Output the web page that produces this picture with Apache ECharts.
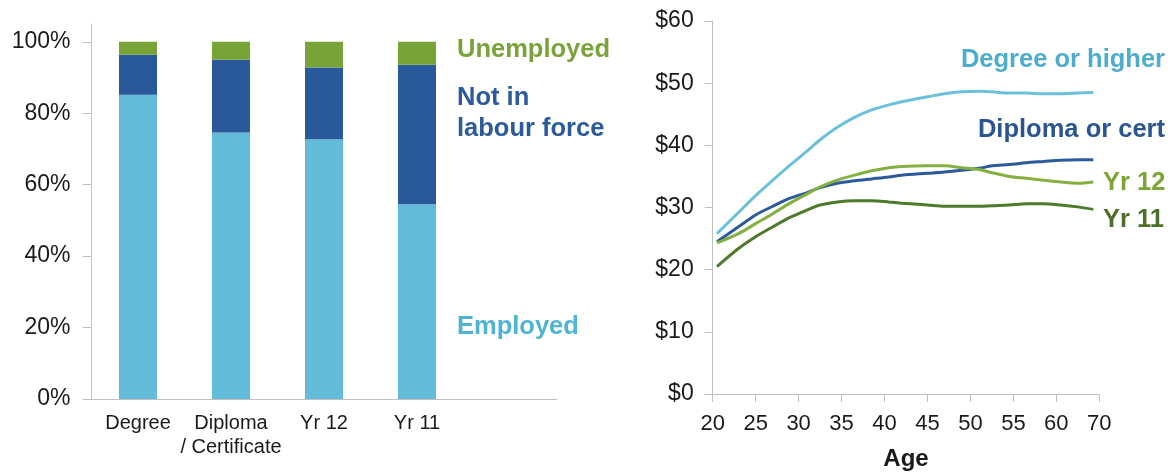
<!DOCTYPE html>
<html>
<head>
<meta charset="utf-8">
<script src="https://cdn.jsdelivr.net/npm/echarts@6/dist/echarts.min.js"></script>
<style>html,body{margin:0;padding:0;background:#fff;}#c{width:1173px;height:473px;}</style>
</head>
<body>
<div id="c"></div>
<script>
// ---- Left chart: labour force status by education ----
const barCategories = ['Degree', 'Diploma\n/ Certificate', 'Yr 12', 'Yr 11', ''];
const employed   = [85.2, 74.6, 72.7, 54.5, null];
const notInLF    = [11.2, 20.4, 20.1, 39.1, null];
const unemployed = [3.6, 5.0, 7.2, 6.4, null];
const pctTicks = [0, 20, 40, 60, 80, 100];

// ---- Right chart: hourly wage by age ----
const ageTickLabels = ['20', '25', '30', '35', '40', '45', '50', '55', '60', '70'];
const ages = [20.5, 23, 25, 27, 29, 31, 32.5, 34.5, 36.5, 38.5, 40.5, 42, 45, 47, 49, 51, 52.5, 54.5, 56.5, 58.5, 60.5, 62.5, 64.3];
const wageDegree  = [25.8, 29.2, 31.9, 34.4, 36.8, 39.1, 40.9, 42.9, 44.5, 45.7, 46.5, 47.0, 47.8, 48.3, 48.6, 48.7, 48.6, 48.4, 48.4, 48.3, 48.3, 48.4, 48.5];
const wageDiploma = [24.5, 26.9, 28.8, 30.2, 31.5, 32.4, 33.2, 33.9, 34.3, 34.6, 34.9, 35.2, 35.5, 35.7, 36.0, 36.3, 36.7, 36.9, 37.2, 37.4, 37.6, 37.7, 37.7];
const wageYr12    = [24.3, 25.8, 27.4, 29.0, 30.7, 32.2, 33.3, 34.4, 35.2, 35.9, 36.4, 36.6, 36.7, 36.7, 36.4, 36.1, 35.6, 35.0, 34.7, 34.4, 34.1, 33.9, 34.1];
const wageYr11    = [20.5, 23.4, 25.3, 26.9, 28.4, 29.6, 30.4, 30.9, 31.1, 31.1, 30.9, 30.7, 30.4, 30.2, 30.2, 30.2, 30.3, 30.4, 30.6, 30.6, 30.4, 30.1, 29.7];

const C_LIGHT = '#62bcd9', C_DARK = '#29599b', C_GREEN = '#78a336', C_DGREEN = '#4e7a2b';
const FONT = '"Liberation Sans", Arial, sans-serif';
const axisGray = '#bfbfbf';

const zip = (xs, ys) => xs.map((x, i) => [x, ys[i]]);

const chart = echarts.init(document.getElementById('c'), null, {renderer: 'canvas'});
chart.setOption({
  animation: false,
  backgroundColor: '#fff',
  textStyle: {fontFamily: FONT},
  grid: [
    {left: 91.5, top: 24, width: 465, height: 375, containLabel: false, outerBoundsMode: 'none'},
    {left: 712.7, top: 21, width: 386.6, height: 373, containLabel: false, outerBoundsMode: 'none'}
  ],
  xAxis: [
    {
      gridIndex: 0, type: 'category', data: barCategories,
      axisLine: {lineStyle: {color: axisGray, width: 1}},
      axisTick: {show: false},
      axisLabel: {color: '#1a1a1a', fontSize: 20, fontFamily: FONT, margin: 12, lineHeight: 24, interval: 0}
    },
    {
      gridIndex: 1, type: 'value', min: 20, max: 65, interval: 5,
      axisLine: {lineStyle: {color: axisGray, width: 1}},
      axisTick: {show: true, length: 8, lineStyle: {color: axisGray}},
      splitLine: {show: false},
      axisLabel: {color: '#1a1a1a', fontSize: 22, fontFamily: FONT, margin: 19,
        formatter: v => ageTickLabels[Math.round((v - 20) / 5)]},
      name: 'Age', nameLocation: 'middle', nameGap: 53,
      nameTextStyle: {color: '#1a1a1a', fontSize: 24, fontWeight: 'bold', fontFamily: FONT}
    }
  ],
  yAxis: [
    {
      gridIndex: 0, type: 'value', min: 0, max: 105, interval: 20,
      axisLine: {show: true, lineStyle: {color: axisGray}},
      axisTick: {show: true, length: 9, lineStyle: {color: axisGray}, customValues: pctTicks},
      splitLine: {show: false},
      axisLabel: {color: '#1a1a1a', fontSize: 23, fontFamily: FONT, margin: 21, customValues: pctTicks,
        formatter: v => v + '%'}
    },
    {
      gridIndex: 1, type: 'value', min: 0, max: 60, interval: 10,
      axisLine: {show: true, lineStyle: {color: axisGray}},
      axisTick: {show: true, length: 8, lineStyle: {color: axisGray}},
      splitLine: {show: false},
      axisLabel: {color: '#1a1a1a', fontSize: 23, fontFamily: FONT, margin: 19,
        formatter: v => '$' + v}
    }
  ],
  series: [
    {name: 'Employed', type: 'bar', stack: 'lf', xAxisIndex: 0, yAxisIndex: 0, barWidth: 38,
      data: employed, itemStyle: {color: C_LIGHT}},
    {name: 'Not in labour force', type: 'bar', stack: 'lf', xAxisIndex: 0, yAxisIndex: 0, barWidth: 38,
      data: notInLF, itemStyle: {color: C_DARK}},
    {name: 'Unemployed', type: 'bar', stack: 'lf', xAxisIndex: 0, yAxisIndex: 0, barWidth: 38,
      data: unemployed, itemStyle: {color: C_GREEN}},
    {name: 'Degree or higher', type: 'line', xAxisIndex: 1, yAxisIndex: 1, smooth: 0.3, showSymbol: false,
      data: zip(ages, wageDegree), lineStyle: {color: '#6cc0dc', width: 3}},
    {name: 'Diploma or cert', type: 'line', xAxisIndex: 1, yAxisIndex: 1, smooth: 0.3, showSymbol: false,
      data: zip(ages, wageDiploma), lineStyle: {color: '#2c5a9c', width: 3}},
    {name: 'Yr 12', type: 'line', xAxisIndex: 1, yAxisIndex: 1, smooth: 0.3, showSymbol: false,
      data: zip(ages, wageYr12), lineStyle: {color: '#84b041', width: 3}},
    {name: 'Yr 11', type: 'line', xAxisIndex: 1, yAxisIndex: 1, smooth: 0.3, showSymbol: false,
      data: zip(ages, wageYr11), lineStyle: {color: C_DGREEN, width: 3}}
  ],
  graphic: [
    {type: 'text', left: 457, top: 37, style: {text: 'Unemployed', fill: '#78a33a', font: 'bold 25.5px ' + FONT}},
    {type: 'text', left: 457, top: 82, style: {text: 'Not in\nlabour force', fill: '#2b5b9a', font: 'bold 25.5px ' + FONT, lineHeight: 31}},
    {type: 'text', left: 457, top: 314, style: {text: 'Employed', fill: '#4fb3d3', font: 'bold 25.5px ' + FONT}},
    {type: 'text', right: 8, top: 47, style: {text: 'Degree or higher', fill: '#4fadcc', font: 'bold 25.5px ' + FONT}},
    {type: 'text', right: 8, top: 117, style: {text: 'Diploma or cert', fill: '#2b5592', font: 'bold 25.5px ' + FONT}},
    {type: 'text', left: 1103, top: 170, style: {text: 'Yr 12', fill: '#7aa636', font: 'bold 25.5px ' + FONT}},
    {type: 'text', left: 1103, top: 207, style: {text: 'Yr 11', fill: '#4c7029', font: 'bold 25.5px ' + FONT}}
  ]
});
</script>
</body>
</html>
